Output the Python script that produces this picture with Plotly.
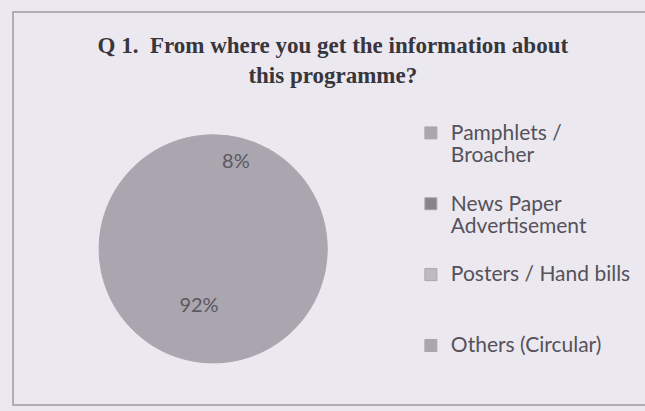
"""Q1 survey pie: where respondents heard about the programme."""

import plotly.graph_objects as go

_BG     = "#ebe8f0"
_BORDER = "#9d9aa3"
_TITLE  = "#38353b"
_TEXT   = "#55525a"
_SLICE  = "#a9a6af"

labels = [
    "Pamphlets /<br>Broacher",
    "News Paper<br>Advertisement",
    "Posters / Hand bills",
    "Others (Circular)",
]
values = [8, 0, 0, 92]
slice_colors = [_SLICE, "#86838b", "#bdbac2", _SLICE]

# Excel spaces its legend entries wider than plotly's line height allows,
# so every entry is padded to three lines (except the last one).
_LEG_LINES = 3
legend_labels = []
for i, lbl in enumerate(labels):
    parts = lbl.split("<br>")
    txt = "<br>".join(f"<span style='font-size:21px'>{p}</span>" for p in parts)
    if i < len(labels) - 1:
        txt += "<br>&nbsp;" * (_LEG_LINES - len(parts))
    legend_labels.append(txt)

fig = go.Figure()

fig.add_trace(go.Pie(
    labels=legend_labels,
    values=values,
    sort=False,
    direction="clockwise",
    rotation=0,
    textinfo="percent",
    textposition="inside",
    insidetextorientation="horizontal",
    textfont=dict(family="Lato, Open Sans, sans-serif", size=20, color="#5b585f"),
    # slice outline in the fill colour hides the anti-aliased seam
    marker=dict(colors=slice_colors, line=dict(color=_SLICE, width=1)),
    domain=dict(x=[0.152, 0.509], y=[0.117, 0.672]),
    hoverinfo="percent",
))

# frame of the scanned chart area
fig.add_shape(
    type="rect", xref="paper", yref="paper",
    x0=0.0202, x1=1.02, y0=0.0146, y1=0.971,
    line=dict(color=_BORDER, width=1.5),
    fillcolor="rgba(0,0,0,0)",
    layer="below",
)

fig.update_layout(
    width=645,
    height=411,
    paper_bgcolor=_BG,
    plot_bgcolor=_BG,
    margin=dict(l=0, r=0, t=0, b=0),
    title=dict(
        text="Q 1.  From where you get the information about<br>this programme?",
        x=0.516, xanchor="center",
        y=0.871, yanchor="top",
        font=dict(family="Liberation Serif, Times New Roman, serif",
                  size=23, color=_TITLE, weight="bold"),
    ),
    showlegend=True,
    legend=dict(
        x=0.637, y=0.72,
        xanchor="left", yanchor="top",
        valign="top",
        font=dict(family="Lato, Open Sans, sans-serif", size=17.4, color=_TEXT),
        bgcolor="rgba(0,0,0,0)",
        traceorder="normal",
    ),
)

fig.write_html(
    "out.html",
    config={"displayModeBar": False},
    post_script="document.body.style.margin='0';",
)
